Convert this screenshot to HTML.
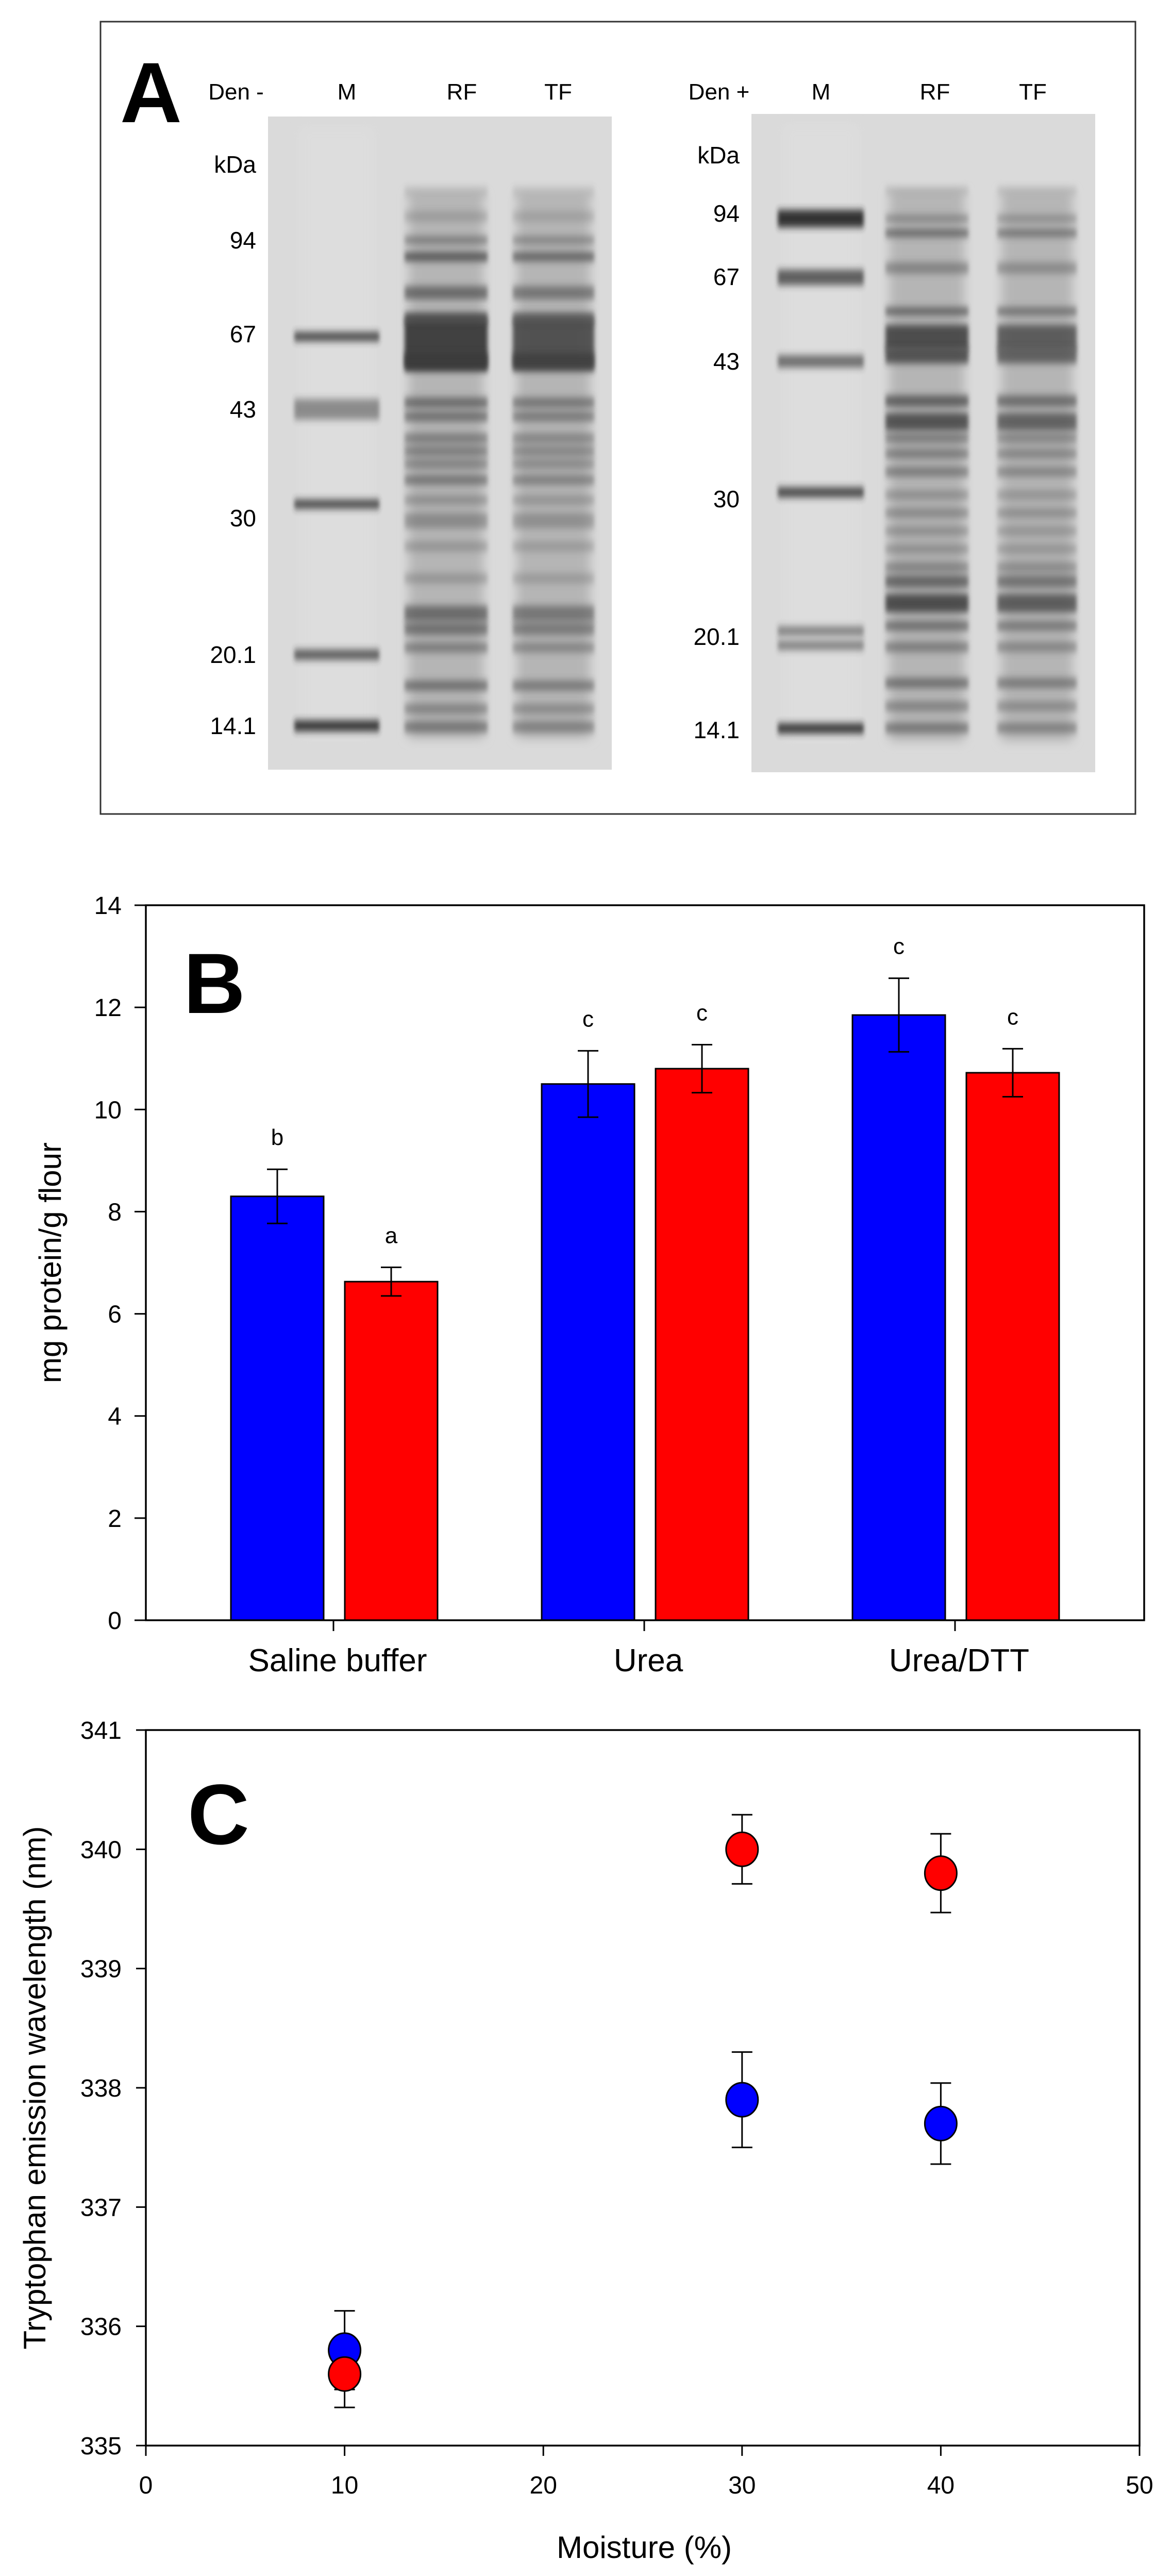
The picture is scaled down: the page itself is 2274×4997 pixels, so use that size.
<!DOCTYPE html>
<html><head><meta charset="utf-8"><style>
html,body{margin:0;padding:0;background:#fff;}
svg{display:block;}
text{font-family:"Liberation Sans",Arial,sans-serif;fill:#000;}
</style></head><body>
<svg id="fig" xmlns="http://www.w3.org/2000/svg" width="2274" height="4997" viewBox="0 0 2274 4997">
<defs>
<filter id="blur" x="-20%" y="-300%" width="140%" height="700%"><feGaussianBlur stdDeviation="4 7"/></filter>
<filter id="blur2" x="-20%" y="-20%" width="140%" height="140%"><feGaussianBlur stdDeviation="10"/></filter>
</defs>
<g id="panelA">
<rect x="195" y="42" width="2008" height="1537" fill="#fff" stroke="#333" stroke-width="3"/>
<text x="233" y="237" font-size="166" font-weight="bold">A</text>
</g>
<g id="panelB"></g>
<g id="panelC"></g>
</svg>
<script>
const NS="http://www.w3.org/2000/svg";
function mk(parent,tag,attrs,txt){const e=document.createElementNS(NS,tag);for(const k in attrs)e.setAttribute(k,attrs[k]);if(txt!==undefined)e.textContent=txt;parent.appendChild(e);return e;}

/* ---------- Panel A: gels ---------- */
const gelLeftBands=[[372,0.15,20],[420,0.2,20],[466,0.45,16],[498,0.75,18],[568,0.6,26],[617,0.8,22],[670,0.95,100],[700,0.85,30],[781,0.6,20],[808,0.55,20],[850,0.45,20],[875,0.45,20],[900,0.4,20],[931,0.5,20],[970,0.3,20],[1010,0.35,30],[1060,0.25,20],[1122,0.25,20],[1190,0.6,30],[1220,0.55,25],[1256,0.45,20],[1330,0.55,20],[1375,0.4,20],[1410,0.5,22]];
const gelRightBands=[[370,0.15,16],[424,0.4,14],[452,0.6,16],[520,0.4,22],[604,0.65,16],[655,0.85,50],[690,0.8,30],[778,0.7,22],[818,0.8,34],[850,0.45,20],[880,0.45,20],[915,0.45,20],[960,0.3,20],[995,0.35,20],[1030,0.3,20],[1065,0.3,20],[1100,0.4,20],[1128,0.65,24],[1170,0.85,36],[1214,0.55,20],[1255,0.45,20],[1325,0.55,20],[1370,0.4,20],[1412,0.5,20]];
const markerLeft=[[653,0.8,18],[794,0.45,40],[978,0.8,18],[1270,0.7,20],[1408,0.9,22]];
const markerRight=[[424,0.95,34],[538,0.7,30],[701,0.6,24],[955,0.8,20],[1224,0.5,18],[1252,0.5,18],[1413,0.9,20]];
const gA=document.getElementById('panelA');
function gel(x0,y0,w,h,lanes,mLane,mBands,bands,name){
  const g=mk(gA,'g',{});
  
  
  mk(g,'rect',{x:x0,y:y0,width:w,height:h,fill:'#dadada'});
  const ml=mk(g,'rect',{x:mLane[0]+10,y:y0+20,width:mLane[1]-mLane[0]-20,height:h-80,fill:'#dfdfdf',opacity:0.6,filter:'url(#blur2)'});
  
  
  lanes.forEach((ln,i)=>{
    const s=mk(g,'rect',{x:ln[0]+8,y:y0+150,width:ln[1]-ln[0]-16,height:h-210,fill:'#b5b5b5',filter:'url(#blur2)'});
    
    
    bands.forEach(b=>{
      const f=i===1?0.85:1;
      const r=mk(g,'rect',{x:ln[0],y:b[0]-b[2]/2,width:ln[1]-ln[0],height:b[2],fill:'#3a3a3a',opacity:(b[1]*f).toFixed(2),filter:'url(#blur)'});
      
      
    });
  });
  mBands.forEach(b=>{
    const r=mk(g,'rect',{x:mLane[0],y:b[0]-b[2]/2,width:mLane[1]-mLane[0],height:b[2],fill:'#2a2a2a',opacity:b[1],filter:'url(#blur)'});
    
    
  });
}
gel(520,226,667,1267,[[785,946],[995,1153]],[571,736],markerLeft,gelLeftBands,'gel-denaturant-minus');
gel(1458,221,667,1277,[[1718,1879],[1935,2089]],[1509,1676],markerRight,gelRightBands,'gel-denaturant-plus');
const laneLabels=[["Den -",458,"den-minus-label"],["M",673,"lane-m-label"],["RF",896,"lane-rf-label"],["TF",1083,"lane-tf-label"],["Den +",1395,"den-plus-label"],["M",1593,"lane-m-label"],["RF",1814,"lane-rf-label"],["TF",2004,"lane-tf-label"]];
laneLabels.forEach(l=>{const t=mk(gA,'text',{x:l[1],y:193,'font-size':44,'text-anchor':'middle'},l[0]);});
const kdaLeft=[["kDa",319],["94",466],["67",648],["43",794],["30",1005],["20.1",1270],["14.1",1408]];
const kdaRight=[["kDa",301],["94",414],["67",537],["43",701],["30",968],["20.1",1235],["14.1",1416]];
kdaLeft.forEach(k=>{const t=mk(gA,'text',{x:497,y:k[1]+16,'font-size':46,'text-anchor':'end'},k[0]);});
kdaRight.forEach(k=>{const t=mk(gA,'text',{x:1435,y:k[1]+16,'font-size':46,'text-anchor':'end'},k[0]);});

/* ---------- Panel B: bar chart ---------- */
const bCategories=["Saline buffer","Urea","Urea/DTT"];
const bBlue=[8.3,10.5,11.85];
const bRed=[6.63,10.8,10.72];
const bBlueErr=[0.53,0.65,0.72];
const bRedErr=[0.28,0.47,0.47];
const bBlueLetters=["b","c","c"];
const bRedLetters=["a","c","c"];
const bTicks=[0,2,4,6,8,10,12,14];
const gB=document.getElementById('panelB');
const BL=283,BR=2220,BT=1756,BB=3143,BMAX=14;
const byS=v=>BB-(BB-BT)*v/BMAX;
const bxS=i=>647+i*603;
const barW=180;
function errBar(g,x,y1,y2,name){
  const e=mk(g,'path',{d:`M${x} ${y1}V${y2}M${x-20} ${y1}H${x+20}M${x-20} ${y2}H${x+20}`,stroke:'#000','stroke-width':3,fill:'none'});
  
  
}
bCategories.forEach((c,i)=>{
  const cx=bxS(i);
  [[bBlue,bBlueErr,bBlueLetters,'#0000ff',cx-199,'blue'],[bRed,bRedErr,bRedLetters,'#ff0000',cx+22,'red']].forEach(s=>{
    const v=s[0][i],er=s[1][i];
    const r=mk(gB,'rect',{x:s[4],y:byS(v),width:barW,height:BB-byS(v),fill:s[3],stroke:'#000','stroke-width':3});
    
    
    const mx=s[4]+barW/2;
    errBar(gB,mx,byS(v+er),byS(v-er),'error-bar');
    const t=mk(gB,'text',{x:mx,y:byS(v+er)-47,'font-size':44,'text-anchor':'middle'},s[2][i]);
    
    
  });
  const tk=mk(gB,'line',{x1:cx,y1:BB,x2:cx,y2:BB+21,stroke:'#000','stroke-width':3});
  
  
  const lb=mk(gB,'text',{x:cx+8,y:3242,'font-size':62,'text-anchor':'middle'},c);
  
  
});
const bFrame=mk(gB,'rect',{x:BL,y:BT,width:BR-BL,height:BB-BT,fill:'none',stroke:'#000','stroke-width':3.5});


bTicks.forEach(v=>{
  const l=mk(gB,'line',{x1:261,y1:byS(v),x2:BL,y2:byS(v),stroke:'#000','stroke-width':3});
  
  
  const t=mk(gB,'text',{x:236,y:byS(v)+17,'font-size':48,'text-anchor':'end'},String(v));
  
  
});
const bTitle=mk(gB,'text',{x:0,y:0,'font-size':60,'text-anchor':'middle',transform:`translate(118 ${(BT+BB)/2}) rotate(-90)`},'mg protein/g flour');


const bLab=mk(gB,'text',{x:356,y:1965,'font-size':166,'font-weight':'bold'},'B');



/* ---------- Panel C: scatter ---------- */
const cMoisture=[10,30,40];
const cBlue=[335.8,337.9,337.7];
const cBlueErr=[0.33,0.4,0.34];
const cRed=[335.6,340.0,339.8];
const cRedErr=[0.28,0.29,0.33];
const cYTicks=[335,336,337,338,339,340,341];
const cXTicks=[0,10,20,30,40,50];
const gC=document.getElementById('panelC');
const CL=283,CR=2211,CT=3356,CB=4744;
const cyS=v=>CB-(CB-CT)*(v-335)/6;
const cxS=v=>CL+(CR-CL)*v/50;
const cFrame=mk(gC,'rect',{x:CL,y:CT,width:CR-CL,height:CB-CT,fill:'none',stroke:'#000','stroke-width':3.5});


cYTicks.forEach(v=>{
  const l=mk(gC,'line',{x1:264,y1:cyS(v),x2:CL,y2:cyS(v),stroke:'#000','stroke-width':3});
  
  
  const t=mk(gC,'text',{x:236,y:cyS(v)+17,'font-size':48,'text-anchor':'end'},String(v));
  
  
});
cXTicks.forEach(v=>{
  const l=mk(gC,'line',{x1:cxS(v),y1:CB,x2:cxS(v),y2:CB+20,stroke:'#000','stroke-width':3});
  
  
  const t=mk(gC,'text',{x:cxS(v),y:4837,'font-size':48,'text-anchor':'middle'},String(v));
  
  
});
[[cBlue,cBlueErr],[cRed,cRedErr]].forEach(s=>{
  cMoisture.forEach((m,i)=>{
    const x=cxS(m),v=s[0][i],er=s[1][i];
    errBar(gC,x,cyS(v+er),cyS(v-er),'error-bar');
  });
});
[[cBlue,'#0000ff','blue'],[cRed,'#ff0000','red']].forEach(s=>{
  cMoisture.forEach((m,i)=>{
    const c=mk(gC,'ellipse',{cx:cxS(m),cy:cyS(s[0][i]),rx:31,ry:33,fill:s[1],stroke:'#000','stroke-width':3});
    
    
  });
});
const cXT=mk(gC,'text',{x:1250,y:4962,'font-size':60,'text-anchor':'middle'},'Moisture (%)');


const cYT=mk(gC,'text',{x:0,y:0,'font-size':60,'text-anchor':'middle',transform:`translate(88 ${(CT+CB)/2}) rotate(-90)`},'Tryptophan emission wavelength (nm)');


const cLab=mk(gC,'text',{x:364,y:3577,'font-size':166,'font-weight':'bold'},'C');


</script>
</body></html>
